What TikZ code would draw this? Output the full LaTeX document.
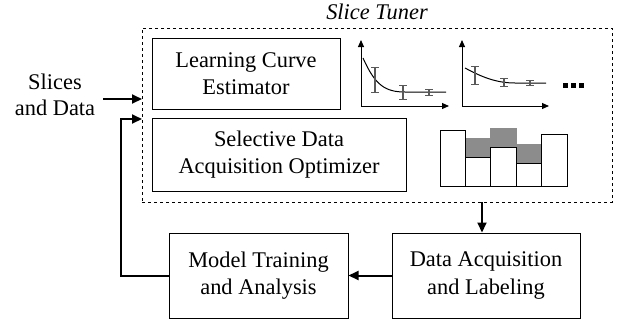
\documentclass[tikz,border=0pt]{standalone}
\usepackage{fontspec}
\setmainfont{Liberation Serif}
\usetikzlibrary{arrows.meta}

\tikzset{
    box/.style={draw, line width=1pt, align=center, font=\rmfamily\fontsize{22.4}{27.5}\selectfont},
    conn/.style={line width=2pt, -{Triangle[length=10pt, width=9pt]}},
    axis/.style={line width=1pt, -{Triangle[length=7pt, width=6pt]}},
    errbar/.style={draw=black!65, line width=2pt},
    errcap/.style={draw=black!65, line width=1pt},
    shade/.style={fill=black!45, draw=black!45},
}

\begin{document}
\begin{tikzpicture}[x=1pt, y=-1pt, font=\rmfamily]
    \useasboundingbox (0,0) rectangle (619,322);

    % Slice Tuner
    \node[draw, dashed, line width=0.8pt, minimum width=470pt, minimum height=174pt, inner sep=0pt] (tuner) at (377,115) {};
    \node[font=\rmfamily\fontsize{22.4}{27}\selectfont\itshape] (title) at (377,12) {Slice Tuner};

    \node[box, minimum width=188pt, minimum height=71pt] (lce) at (246,73.5) {Learning Curve\\Estimator};
    \node[box, minimum width=254pt, minimum height=73pt] (sdao) at (279,154.5) {Selective Data\\Acquisition Optimizer};

    % Learning curves
    \draw[axis] (361,106) -- (361,40);
    \draw[axis] (361,106) -- (449,106);
    \draw[line width=1pt] (363,58) .. controls (375,85) and (385,92) .. (405,92) -- (446,92);
    \draw[errbar] (375,67) -- (375,92);
    \draw[errbar] (403,85) -- (403,99);
    \draw[errbar] (429,89) -- (429,95);
    \foreach \x/\y in {375/67, 375/92, 403/85, 403/99, 429/89, 429/95}
        \draw[errcap] (\x-4,\y) -- (\x+4,\y);

    \draw[axis] (462,106) -- (462,40);
    \draw[axis] (462,106) -- (549,106);
    \draw[line width=1pt] (465,68) .. controls (480,76) and (495,83) .. (515,83) -- (546,83);
    \draw[errbar] (475,66) -- (475,84);
    \draw[errbar] (504,78) -- (504,86);
    \draw[errbar] (530,80) -- (530,85);
    \foreach \x/\y in {475/66, 475/84, 504/78, 504/86, 530/80, 530/85}
        \draw[errcap] (\x-4,\y) -- (\x+4,\y);
    \foreach \x in {565,573,581}
        \fill (\x-2.5,83) rectangle (\x+2.5,88);

    % Bars
    \draw[shade] (465,138) rectangle (490,157);
    \draw[shade] (490,128) rectangle (516,147);
    \draw[shade] (516,144) rectangle (541,163);
    \draw[line width=1pt] (440,186) rectangle (465,130);
    \draw[line width=1pt] (465,186) rectangle (490,157);
    \draw[line width=1pt] (490,186) rectangle (516,147);
    \draw[line width=1pt] (516,186) rectangle (541,163);
    \draw[line width=1pt] (541,186) rectangle (567,134);

    % Input
    \node[align=center, font=\rmfamily\fontsize{22.4}{26}\selectfont] (input) at (55,95) {Slices\\and Data};
    \coordinate (in) at (103,99);
    \coordinate (inend) at (142,99);
    \draw[conn] (in) -- (inend);

    % Loop
    \node[box, minimum width=179pt, minimum height=85pt] (mt) at (258.5,275.5) {Model Training\\and Analysis};
    \node[box, minimum width=188pt, minimum height=85pt] (dal) at (486,275.5) {Data Acquisition\\and Labeling};

    \draw[conn] (tuner.south -| dal.north) ++(-4,0) -- ([xshift=-4pt]dal.north);
    \draw[conn] (dal.west) -- (mt.east);
    \coordinate (back) at (142,119);
    \draw[conn] (mt.west) -| (121,119) -- (back);
\end{tikzpicture}
\end{document}
